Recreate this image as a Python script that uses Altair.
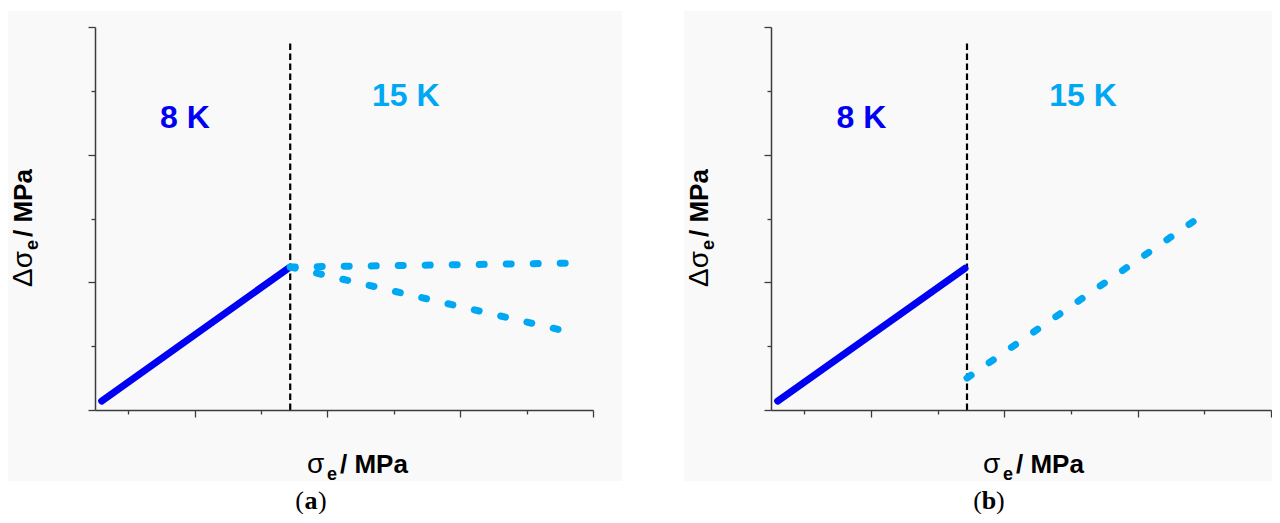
import altair as alt
import pandas as pd

# ---------------- data ----------------
x_tick_values = [1, 2, 3, 4, 5, 6, 7, 8]
y_tick_values = [0, 1, 2, 3, 4, 5, 6]
x_domain = [0.5, 8]
y_domain = [0, 6]

boundary_x = [3.44]
boundary_y0 = [0.0]
boundary_y1 = [5.75]

k8_x = [0.6, 3.41]
k8_y = [0.14, 2.22]

a15_series = ["flat", "flat", "down", "down"]
a15_x = [3.44, 7.65, 3.44, 7.53]
a15_y = [2.24, 2.30, 2.24, 1.25]

b15_series = ["rise", "rise"]
b15_x = [3.44, 6.9]
b15_y = [0.50, 3.0]

label_text = ["8 K", "15 K"]
label_x = [1.855, 5.18]
label_y = [4.42, 4.76]

captions = ["a", "b"]

# ---------------- styles ----------------
BLUE = "#0000F2"
CYAN = "#00A8F3"
AXIS_COLOR = "#3c3c3c"
FONT = "Liberation Sans"
SERIF = "Liberation Serif"
BG = "#F9F9F9"

tick_cond = {"condition": {"test": "datum.value % 2 === 0", "value": 7}, "value": 4}


def xenc(field="x"):
    return alt.X(
        f"{field}:Q",
        scale=alt.Scale(domain=x_domain, nice=False, zero=False),
        axis=alt.Axis(values=x_tick_values, labels=False, title=None, grid=False,
                      domainColor=AXIS_COLOR, domainWidth=1.5, tickColor=AXIS_COLOR,
                      tickWidth=1.3, tickSize=tick_cond, zindex=1),
    )


def yenc(field="y"):
    return alt.Y(
        f"{field}:Q",
        scale=alt.Scale(domain=y_domain, nice=False, zero=False),
        axis=alt.Axis(values=y_tick_values, labels=False, title=None, grid=False,
                      domainColor=AXIS_COLOR, domainWidth=1.5, tickColor=AXIS_COLOR,
                      tickWidth=1.3, tickSize=tick_cond, zindex=1),
    )


one = pd.DataFrame({"k": [0]})


def txt(text, x, y, size, weight="bold", font=FONT, align="left", angle=0, color="black"):
    kw = dict(text=text, font=font, fontSize=size, fontWeight=weight, align=align,
              baseline="alphabetic", color=color)
    if angle:
        kw["angle"] = angle
    return alt.Chart(one).mark_text(**kw).encode(x=alt.value(x), y=alt.value(y))


def panel(width, cyan_x, cyan_y, cyan_series, caption, gray_right, cap_x):
    bg = alt.Chart(one).mark_rect(color=BG).encode(
        x=alt.value(-87), x2=alt.value(gray_right), y=alt.value(-16), y2=alt.value(454)
    )
    rule_df = pd.DataFrame({"x": boundary_x, "y": boundary_y0, "y2": boundary_y1})
    rule = alt.Chart(rule_df).mark_rule(color="black", strokeWidth=2.2, strokeDash=[6.5, 3.5]).encode(
        x=xenc(), y=yenc(), y2="y2:Q"
    )
    blue_df = pd.DataFrame({"x": k8_x, "y": k8_y})
    blue = alt.Chart(blue_df).mark_line(color=BLUE, strokeWidth=7, strokeCap="round").encode(
        x=xenc(), y=yenc()
    )
    cyan_df = pd.DataFrame({"x": cyan_x, "y": cyan_y, "s": cyan_series})
    cyan = alt.Chart(cyan_df).mark_line(
        color=CYAN, strokeWidth=7, strokeCap="round", strokeDash=[5, 22]
    ).encode(x=xenc(), y=yenc(), detail="s:N")

    lab8 = alt.Chart(pd.DataFrame({"x": label_x[:1], "y": label_y[:1], "t": label_text[:1]})).mark_text(
        font=FONT, fontSize=32, fontWeight="bold", color=BLUE, align="center", baseline="alphabetic"
    ).encode(x=xenc(), y=yenc(), text="t:N")
    lab15 = alt.Chart(pd.DataFrame({"x": label_x[1:], "y": label_y[1:], "t": label_text[1:]})).mark_text(
        font=FONT, fontSize=32, fontWeight="bold", color=CYAN, align="center", baseline="alphabetic"
    ).encode(x=xenc(), y=yenc(), text="t:N")

    # x axis title: sigma_e / MPa
    xt = [
        txt("σ", 212, 446, 28, weight="normal"),
        txt("e", 232, 453, 18),
        txt("/ MPa", 245, 446, 26),
    ]
    # y axis title: Delta sigma_e / MPa (rotated)
    yt = [
        txt("Δσ", -63, 260, 28, weight="normal", angle=270),
        txt("e", -57, 223, 18, angle=270),
        txt("/ MPa", -63, 210, 26, angle=270),
    ]
    cap = [
        txt("(", cap_x - 7, 482, 26, weight="normal", font=SERIF, align="right"),
        txt(caption, cap_x, 482, 26, weight="bold", font=SERIF, align="center"),
        txt(")", cap_x + 7, 482, 26, weight="normal", font=SERIF, align="left"),
    ]
    return alt.layer(bg, rule, blue, cyan, lab8, lab15, *xt, *yt, *cap).properties(
        width=width, height=383
    )


pa = panel(498, a15_x, a15_y, a15_series, captions[0], 527, 216)
pb = panel(500, b15_x, b15_y, b15_series, captions[1], 501, 218)

chart = alt.hconcat(pa, pb, spacing=62).properties(
    padding={"top": 3, "left": 0, "right": 0, "bottom": 0},
    background="white",
).configure_view(stroke=None)

chart.save("out.html", embed_options={"renderer": "svg", "actions": False})
